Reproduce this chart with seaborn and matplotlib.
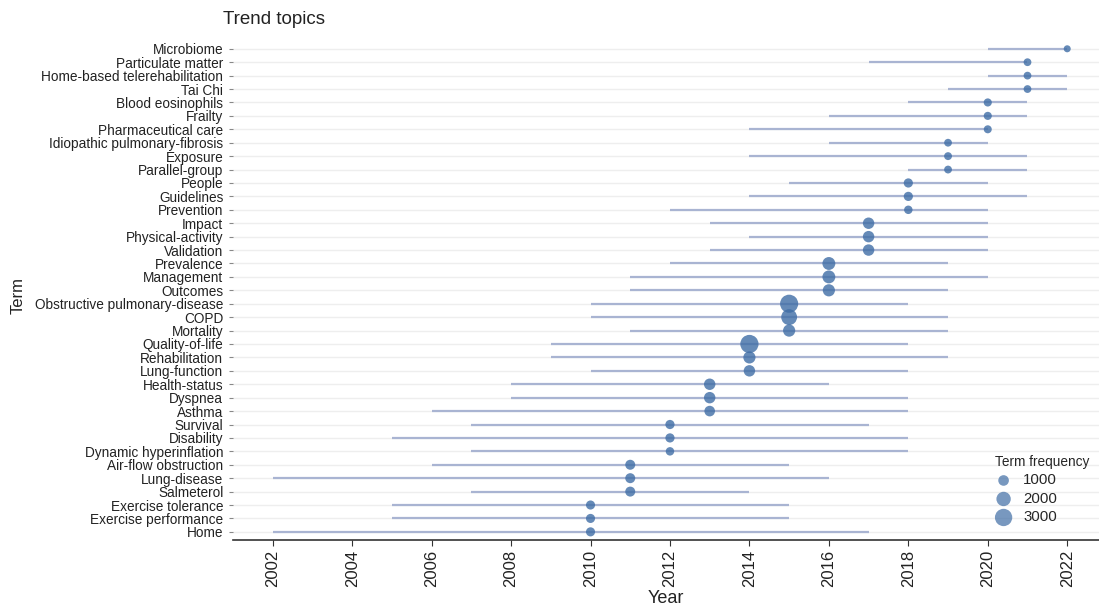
import numpy as np
import pandas as pd
import matplotlib.pyplot as plt
import seaborn as sns

# trend topics, listed top to bottom
terms = ['Microbiome', 'Particulate matter', 'Home-based telerehabilitation', 'Tai Chi',
         'Blood eosinophils', 'Frailty', 'Pharmaceutical care', 'Idiopathic pulmonary-fibrosis',
         'Exposure', 'Parallel-group', 'People', 'Guidelines', 'Prevention', 'Impact',
         'Physical-activity', 'Validation', 'Prevalence', 'Management', 'Outcomes',
         'Obstructive pulmonary-disease', 'COPD', 'Mortality', 'Quality-of-life',
         'Rehabilitation', 'Lung-function', 'Health-status', 'Dyspnea', 'Asthma', 'Survival',
         'Disability', 'Dynamic hyperinflation', 'Air-flow obstruction', 'Lung-disease',
         'Salmeterol', 'Exercise tolerance', 'Exercise performance', 'Home']
year_q1 = [2020, 2017, 2020, 2019, 2018, 2016, 2014, 2016, 2014, 2018, 2015, 2014, 2012,
           2013, 2014, 2013, 2012, 2011, 2011, 2010, 2010, 2011, 2009, 2009, 2010, 2008,
           2008, 2006, 2007, 2005, 2007, 2006, 2002, 2007, 2005, 2005, 2002]
year_median = [2022, 2021, 2021, 2021, 2020, 2020, 2020, 2019, 2019, 2019, 2018, 2018, 2018,
               2017, 2017, 2017, 2016, 2016, 2016, 2015, 2015, 2015, 2014, 2014, 2014, 2013,
               2013, 2013, 2012, 2012, 2012, 2011, 2011, 2011, 2010, 2010, 2010]
year_q3 = [2022, 2021, 2022, 2022, 2021, 2021, 2020, 2020, 2021, 2021, 2020, 2021, 2020,
           2020, 2020, 2020, 2019, 2020, 2019, 2018, 2019, 2019, 2018, 2019, 2018, 2016,
           2018, 2018, 2017, 2018, 2018, 2015, 2016, 2014, 2015, 2015, 2017]
freq = [320, 440, 440, 440, 500, 500, 480, 440, 460, 450, 700, 700, 560, 1190, 1190, 1190,
        1570, 1570, 1380, 3300, 2480, 1380, 3350, 1380, 1190, 1190, 1190, 1000, 700, 700,
        560, 860, 860, 860, 680, 680, 680]
legend_vals = [1000, 2000, 3000]
year_ticks = list(range(2002, 2023, 2))

df = pd.DataFrame({'term': terms, 'q1': year_q1, 'median': year_median,
                   'q3': year_q3, 'freq': freq})

sns.set_style('white')
plt.rcParams['font.family'] = ['Liberation Sans', 'DejaVu Sans']

dot_color = '#3F6DA5'
line_color = '#A9B4D2'
size_range = (10, 180)
size_norm = (0, 3500)


def size_for(v):
    return size_range[0] + (v - size_norm[0]) / (size_norm[1] - size_norm[0]) * (size_range[1] - size_range[0])


fig = plt.figure(figsize=(10.99, 6.08), dpi=100)
ax = fig.add_axes([0.212, 0.112, 0.788, 0.821])

ax.hlines(df['term'], df['q1'], df['q3'], color=line_color, lw=1.6, zorder=2)
sns.scatterplot(data=df, x='median', y='term', size='freq', sizes=size_range,
                size_norm=size_norm, color=dot_color, alpha=0.8, edgecolor='none',
                legend=False, ax=ax, zorder=3)

ax.set_ylim(len(terms) - 0.4, -0.6)
ax.set_xlim(2001, 2022.8)
ax.set_xticks(year_ticks)
ax.set_xticklabels([str(y) for y in year_ticks], rotation=90)

ax.grid(axis='y', color='#EEEEEE', lw=1)
ax.grid(axis='x', visible=False)
ax.set_axisbelow(True)
for side in ['left', 'top', 'right']:
    ax.spines[side].set_visible(False)
ax.spines['bottom'].set_color('#333333')
ax.spines['bottom'].set_linewidth(1.2)

ax.tick_params(axis='y', left=True, length=3, width=0.8, color='#888888',
               labelsize=9.8, labelcolor='#222222', pad=4)
ax.tick_params(axis='x', bottom=True, length=4, width=0.8, color='#333333',
               labelsize=12, labelcolor='#222222', pad=3)

ax.set_xlabel('Year', fontsize=13, color='#222222')
ax.set_ylabel('Term', fontsize=12, color='#222222')
ax.xaxis.set_label_coords(0.5, -0.1)
ax.yaxis.set_label_coords(-0.239, 0.49)

fig.text(223 / 1099, 1 - 20 / 608, 'Trend topics', fontsize=13.5, color='#222222',
         ha='left', va='center')

handles = [ax.scatter([], [], s=size_for(v), color=dot_color, alpha=0.7, edgecolor='none')
           for v in legend_vals]
ax.legend(handles, [str(v) for v in legend_vals], title='Term frequency',
          loc='lower right', bbox_to_anchor=(1.004, 0.004), frameon=False,
          alignment='left', fontsize=10.8, title_fontsize=9.8, labelspacing=0.3,
          handlelength=1.2, handletextpad=0.7)

fig.savefig('out.png', dpi=100)
